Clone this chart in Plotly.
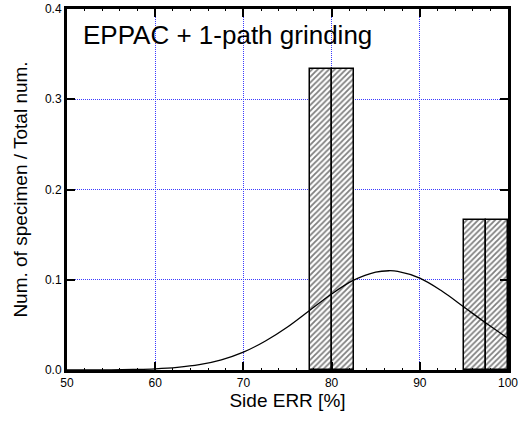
import plotly.graph_objects as go

# Histogram bars (bin centers, width, relative frequency)
bar_x = [78.75, 81.25, 96.25, 98.75]
bar_width = [2.5, 2.5, 2.5, 2.5]
bar_y = [0.3333, 0.3333, 0.1667, 0.1667]

# Fitted distribution curve
curve_x = [50, 52.5, 55, 57.5, 60, 62.5, 65, 67.5, 70, 72.5, 75, 77.5, 80, 82.5,
           85, 86.5, 87.5, 90, 92.5, 95, 97.5, 100]
curve_y = [0.0000, 0.0001, 0.0002, 0.0006, 0.0013, 0.0029, 0.0059, 0.0113, 0.0198,
           0.0322, 0.0477, 0.0660, 0.0842, 0.0995, 0.1085, 0.1100, 0.1093, 0.1018,
           0.0875, 0.0698, 0.0520, 0.0350]

x_ticks = [50, 60, 70, 80, 90, 100]
y_ticks = [0.0, 0.1, 0.2, 0.3, 0.4]

fig = go.Figure()
fig.add_trace(go.Bar(
    x=bar_x, y=bar_y, width=bar_width,
    marker=dict(color="white", line=dict(color="black", width=1.5),
                pattern=dict(shape="/", fgcolor="black", bgcolor="white",
                             size=4, solidity=0.45)),
    showlegend=False,
))
fig.add_trace(go.Scatter(
    x=curve_x, y=curve_y, mode="lines", line=dict(color="black", width=1.3, shape="spline"),
    showlegend=False,
))

fig.add_annotation(text="EPPAC + 1-path grinding", x=0.032, y=0.975, xref="paper", yref="paper",
                   xanchor="left", yanchor="top", showarrow=False,
                   font=dict(family="Liberation Sans, Arial", size=26, color="black"))

axis_common = dict(
    showline=True, linecolor="black", linewidth=3, mirror="allticks",
    ticks="inside", ticklen=8, tickwidth=2, tickcolor="black",
    showgrid=True, gridcolor="#3a3aff", griddash="1px,1px", gridwidth=1,
    zeroline=False, automargin=False,
    tickfont=dict(family="Liberation Sans, Arial", size=12, color="black"),
)

fig.update_xaxes(range=[50, 100], tickvals=x_ticks, ticktext=[str(v) for v in x_ticks],
                 title=dict(text="Side ERR [%]", standoff=4,
                            font=dict(family="Liberation Sans, Arial", size=19, color="black")),
                 minor=dict(ticks="inside", dtick=2, ticklen=2, tickcolor="black", tickwidth=1, showgrid=False),
                 **axis_common)
fig.update_yaxes(range=[0, 0.4], tickvals=y_ticks, ticktext=["0.0", "0.1", "0.2", "0.3", "0.4"],
                 title=dict(text="Num. of specimen / Total num.", standoff=13,
                            font=dict(family="Liberation Sans, Arial", size=19, color="black")),
                 **axis_common)

fig.update_layout(
    width=527, height=421,
    margin=dict(l=67, r=19, t=9, b=51),
    plot_bgcolor="white", paper_bgcolor="white",
    bargap=0,
)

fig.write_html("out.html", config={"displayModeBar": False},
               post_script="document.body.style.margin='0';")
